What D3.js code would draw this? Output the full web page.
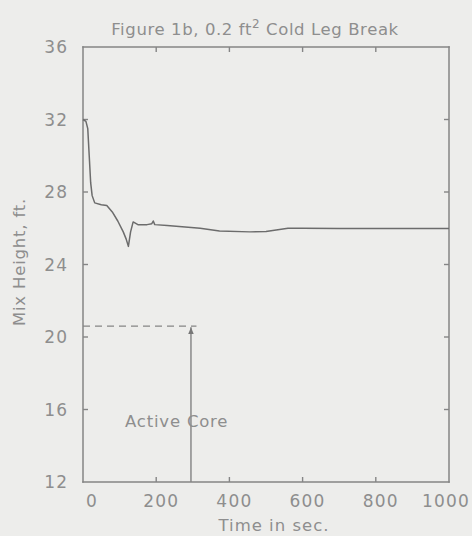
<!DOCTYPE html>
<html>
<head>
<meta charset="utf-8">
<script src="https://cdn.jsdelivr.net/npm/d3@7"></script>
<style>
  html, body { margin: 0; padding: 0; background: #ededeb; }
  svg { display: block; }
  text { font-family: "DejaVu Sans", sans-serif; fill: #8e8e8e; }
</style>
</head>
<body>
<svg id="chart" width="472" height="536"></svg>
<script>
// ---- data ----
const timeSec = [0, 8, 13, 17, 21, 25, 32, 50, 65, 80, 95, 110, 118, 124, 130, 137, 150, 175, 188, 192, 196, 230, 320, 373, 456, 500, 560, 600, 700, 800, 900, 1000];
const mixHeight = [32.0, 31.9, 31.5, 30.0, 28.5, 27.8, 27.4, 27.3, 27.25, 26.9, 26.4, 25.8, 25.4, 25.0, 25.8, 26.35, 26.2, 26.2, 26.25, 26.4, 26.2, 26.15, 26.0, 25.85, 25.8, 25.82, 26.0, 26.0, 25.98, 25.98, 25.98, 25.98];
const xTicks = [0, 200, 400, 600, 800, 1000];
const yTicks = [12, 16, 20, 24, 28, 32, 36];
const activeCoreTop = 20.6;     // ft, dashed line level
const activeCoreTime = 295;     // s, arrow position
const activeCoreDashEnd = 310;  // s, end of dashed line
const titleMain = "Figure 1b, 0.2 ft";
const titleSup = "2";
const titleRest = " Cold Leg Break";
const xLabel = "Time in sec.";
const yLabel = "Mix Height, ft.";
const noteLabel = "Active Core";

// ---- layout ----
const svg = d3.select("#chart");
const pLeft = 83, pRight = 449, pTop = 47, pBottom = 482;
const x = d3.scaleLinear().domain([0, 1000]).range([pLeft, pRight]);
const y = d3.scaleLinear().domain([12, 36]).range([pBottom, pTop]);

const axisColor = "#858585";
const lineColor = "#6c6c6c";

// tick labels
svg.append("g").selectAll("text").data(xTicks).join("text")
  .attr("x", d => x(d) + (d === 1000 ? -3 : d === 0 ? 9 : 5))
  .attr("y", 507)
  .attr("text-anchor", "middle")
  .attr("font-size", 17)
  .attr("letter-spacing", 1.2)
  .text(d => d);

svg.append("g").selectAll("text").data(yTicks).join("text")
  .attr("x", 68)
  .attr("y", d => y(d))
  .attr("dy", "0.36em")
  .attr("text-anchor", "end")
  .attr("font-size", 17)
  .attr("letter-spacing", 1)
  .text(d => d);

// title
const title = svg.append("text")
  .attr("x", 255).attr("y", 35)
  .attr("text-anchor", "middle")
  .attr("font-size", 16.5)
  .attr("letter-spacing", 0.6);
title.append("tspan").text(titleMain);
title.append("tspan").attr("dy", -7).attr("font-size", 12).text(titleSup);
title.append("tspan").attr("dy", 7).text(titleRest);

// axis labels
svg.append("text")
  .attr("x", 274).attr("y", 531)
  .attr("text-anchor", "middle")
  .attr("font-size", 16.5)
  .attr("letter-spacing", 1)
  .text(xLabel);

svg.append("text")
  .attr("transform", "translate(25,262) rotate(-90)")
  .attr("text-anchor", "middle")
  .attr("font-size", 16.5)
  .attr("letter-spacing", 0.8)
  .text(yLabel);

// active core dashed level
svg.append("line")
  .attr("x1", x(0)).attr("x2", x(activeCoreDashEnd))
  .attr("y1", y(activeCoreTop)).attr("y2", y(activeCoreTop))
  .attr("stroke", axisColor).attr("stroke-width", 1.3)
  .attr("stroke-dasharray", "7,5");

// arrow
svg.append("defs").append("marker")
  .attr("id", "arrow").attr("viewBox", "0 0 10 10")
  .attr("refX", 10).attr("refY", 5)
  .attr("markerWidth", 7).attr("markerHeight", 9)
  .attr("markerUnits", "userSpaceOnUse")
  .attr("orient", "auto")
  .append("path").attr("d", "M0,1 L10,5 L0,9 Z").attr("fill", "#777");

svg.append("line")
  .attr("x1", x(activeCoreTime)).attr("x2", x(activeCoreTime))
  .attr("y1", y(12)).attr("y2", y(activeCoreTop) + 1)
  .attr("stroke", "#7a7a7a").attr("stroke-width", 1.3)
  .attr("marker-end", "url(#arrow)");

// annotation text
svg.append("text")
  .attr("x", 125).attr("y", 427)
  .attr("font-size", 16.5)
  .attr("letter-spacing", 0.8)
  .text(noteLabel);

// frame: four sides as separate lines
const sides = [
  [x(0), y(36), x(1000), y(36)],
  [x(1000), y(36), x(1000), y(12)],
  [x(0), y(12), x(1000), y(12)],
  [x(0), y(36), x(0), y(12)]
];
svg.append("g").selectAll("line").data(sides).join("line")
  .attr("x1", d => d[0]).attr("y1", d => d[1])
  .attr("x2", d => d[2]).attr("y2", d => d[3])
  .attr("stroke", axisColor).attr("stroke-width", 1.5)
  .attr("stroke-linecap", "square");

// inward ticks
const innerX = xTicks.filter(d => d > 0 && d < 1000);
const innerY = yTicks.filter(d => d > 12 && d < 36);
const tk = 5;
const tickSegs = [];
innerX.forEach(d => {
  tickSegs.push([x(d), y(12), x(d), y(12) - tk]);
  tickSegs.push([x(d), y(36), x(d), y(36) + tk]);
});
innerY.forEach(d => {
  tickSegs.push([x(0), y(d), x(0) + tk, y(d)]);
  tickSegs.push([x(1000), y(d), x(1000) - tk, y(d)]);
});
svg.append("g").selectAll("line").data(tickSegs).join("line")
  .attr("x1", d => d[0]).attr("y1", d => d[1])
  .attr("x2", d => d[2]).attr("y2", d => d[3])
  .attr("stroke", axisColor).attr("stroke-width", 1.4);

// data curve
const data = timeSec.map((t, i) => [t, mixHeight[i]]);
svg.append("path")
  .datum(data)
  .attr("fill", "none")
  .attr("stroke", lineColor)
  .attr("stroke-width", 1.5)
  .attr("stroke-linejoin", "round")
  .attr("d", d3.line().x(d => x(d[0])).y(d => y(d[1])));
</script>
</body>
</html>
